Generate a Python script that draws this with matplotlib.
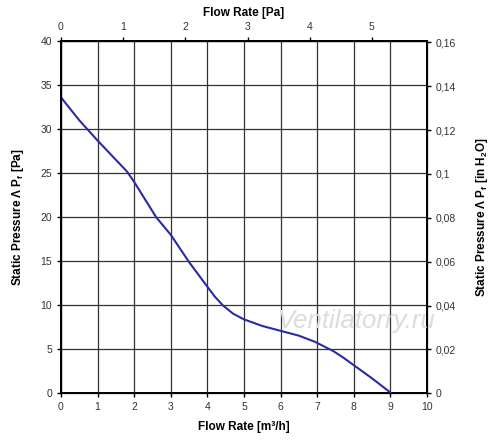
import numpy as np
import matplotlib
matplotlib.use('Agg')
import matplotlib.pyplot as plt
from matplotlib.ticker import FuncFormatter

plt.rcParams['font.family'] = ['Liberation Sans', 'DejaVu Sans']

# flow rate [m3/h] and static pressure [Pa]
flow = [0.0, 0.5, 1.0, 1.8, 2.0, 2.6, 3.0, 3.5, 4.0, 4.2, 4.42, 4.7, 5.0, 5.5, 6.0,
        6.5, 6.94, 7.44, 7.7, 8.0, 8.5, 9.03]
pressure = [33.6, 31.0, 28.7, 25.2, 24.0, 20.0, 18.0, 14.9, 12.1, 11.0, 10.0, 9.05, 8.4, 7.65, 7.1,
            6.55, 5.85, 4.8, 4.1, 3.2, 1.7, 0.0]

x_ticks = list(range(0, 11))
y_ticks = list(range(0, 41, 5))
top_ticks = [0, 1, 2, 3, 4, 5]
right_ticks = [0, 0.02, 0.04, 0.06, 0.08, 0.10, 0.12, 0.14, 0.16]

CFM_PER_M3H = 0.5886
INH2O_PER_PA = 0.004015

fig = plt.figure(figsize=(5, 4.46), dpi=100)
ax = fig.add_axes([0.122, 0.118, 0.732, 0.790])

ax.plot(flow, pressure, color='#2b2ba3', lw=1.5, zorder=4)

ax.set_xlim(0, 10)
ax.set_ylim(0, 40)
ax.set_xticks(x_ticks)
ax.set_yticks(y_ticks)
ax.grid(True, color='#333333', lw=0.9)
for s in ax.spines.values():
    s.set_linewidth(1.4)
    s.set_color('black')
ax.tick_params(labelsize=7.5, labelcolor='#333333', length=3, width=1)

ax.set_xlabel('Flow Rate [m³/h]', fontsize=8.5, fontweight='bold', labelpad=6)
ax.set_ylabel(r'Static Pressure Λ P$_\mathregular{f}$ [Pa]', fontsize=8.5, fontweight='bold', labelpad=10)

top = ax.twiny()
top.set_xlim(0, 10 * CFM_PER_M3H)
top.set_xticks(top_ticks)
top.tick_params(labelsize=7.5, labelcolor='#333333', length=3, width=1)
top.set_xlabel('Flow Rate [Pa]', fontsize=8.5, fontweight='bold', labelpad=4)

right = ax.twinx()
right.set_ylim(0, 40 * INH2O_PER_PA)
right.set_yticks(right_ticks)
right.yaxis.set_major_formatter(FuncFormatter(lambda v, p: ('%g' % round(v, 2)).replace('.', ',')))
right.tick_params(labelsize=7.5, labelcolor='#333333', length=3, width=1)
right.set_ylabel(r'Static Pressure Λ P$_\mathregular{f}$ [in H$_\mathregular{2}$O]', fontsize=8.5,
                 fontweight='bold', labelpad=13)

ax.text(8.07, 8.2, 'Ventilatorry.ru', fontsize=18.5, style='italic', color='#dcdcdc',
        ha='center', va='center', zorder=3)

fig.savefig('out.png', dpi=100)
